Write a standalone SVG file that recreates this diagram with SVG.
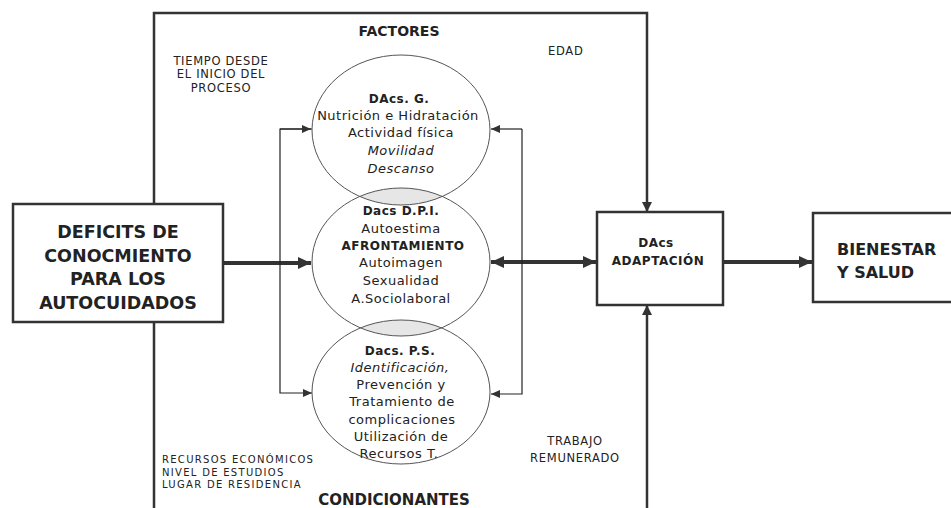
<svg xmlns="http://www.w3.org/2000/svg" width="951" height="508" viewBox="0 0 951 508">
<style>
.box{fill:#fff;stroke:#333;stroke-width:2.5}
.ell{fill:none;stroke:#555;stroke-width:1}
.lens{fill:#e6e6e6}
.thick{fill:none;stroke:#333;stroke-width:4}
.frame{fill:none;stroke:#333;stroke-width:2.5}
.thin{fill:none;stroke:#222;stroke-width:1.2}
text{font-family:"DejaVu Sans","Liberation Sans",sans-serif;fill:#222}
.t{font-size:13px;letter-spacing:0.5px;text-anchor:middle}
.b{font-weight:bold;font-size:12px}
.i{font-style:italic}
.s{font-size:11.5px;letter-spacing:0.7px}
.sm{font-size:10px;letter-spacing:1.3px}
.ad{font-size:12px;font-weight:bold;letter-spacing:0.5px;text-anchor:middle}
.big{font-size:17.5px;font-weight:bold;text-anchor:middle}
.hd{font-size:14px;font-weight:bold;text-anchor:middle}
</style>
<defs>
<marker id="ah" markerUnits="userSpaceOnUse" markerWidth="14" markerHeight="14" refX="13" refY="7" orient="auto-start-reverse"><path d="M0,1 L13,7 L0,13 z" fill="#333"/></marker>
<marker id="ahs" markerUnits="userSpaceOnUse" markerWidth="10" markerHeight="10" refX="9" refY="4" orient="auto"><path d="M0,0 L9,4 L0,8 z" fill="#333"/></marker>
<marker id="ahf" markerUnits="userSpaceOnUse" markerWidth="12" markerHeight="12" refX="5" refY="10" orient="0"><path d="M0,0 L5,10 L10,0 z" fill="#333"/></marker>
<marker id="ahu" markerUnits="userSpaceOnUse" markerWidth="12" markerHeight="12" refX="5" refY="0" orient="0"><path d="M0,10 L5,0 L10,10 z" fill="#333"/></marker>
<clipPath id="cm"><ellipse cx="401" cy="262" rx="89" ry="74"/></clipPath>
</defs>

<g id="frame">
<path class="frame" d="M154,508 V13 H647 V212" marker-end="url(#ahf)"/>
<path class="frame" d="M647,508 V305" marker-end="url(#ahu)"/>
<text class="hd" x="399" y="36">FACTORES</text>
<text class="hd" x="394" y="505" style="font-size:15px">CONDICIONANTES</text>
</g>

<g id="lenses">
<ellipse class="lens" cx="401" cy="130" rx="89" ry="75" clip-path="url(#cm)"/>
<ellipse class="lens" cx="401" cy="392" rx="89" ry="72" clip-path="url(#cm)"/>
</g>

<g id="connectors">
<path class="thick" d="M223,263 H311" marker-end="url(#ah)"/>
<path class="thick" d="M491,262 H596" marker-start="url(#ah)" marker-end="url(#ah)"/>
<path class="thick" d="M723,262 H812" marker-end="url(#ah)"/>
<path class="thin" d="M312,129 H280 V393 H312" marker-end="url(#ahs)"/>
<path class="thin" d="M280,129 H311" marker-end="url(#ahs)"/>
<path class="thin" d="M522,129 V394 H491" marker-end="url(#ahs)"/>
<path class="thin" d="M522,129 H491" marker-end="url(#ahs)"/>
</g>

<g id="deficits">
<rect class="box" x="13" y="204" width="210" height="118"/>
<text class="big" x="118" y="238">DEFICITS DE</text>
<text class="big" x="118" y="262">CONOCMIENTO</text>
<text class="big" x="118" y="285">PARA LOS</text>
<text class="big" x="118" y="309">AUTOCUIDADOS</text>
</g>

<g id="dacs-g">
<ellipse class="ell" cx="401" cy="130" rx="89" ry="75"/>
<text class="t b" x="399" y="103">DAcs. G.</text>
<text class="t" x="398" y="120">Nutrición e Hidratación</text>
<text class="t" x="401" y="137">Actividad física</text>
<text class="t i" x="401" y="155">Movilidad</text>
<text class="t i" x="401" y="173">Descanso</text>
</g>

<g id="dacs-dpi">
<ellipse class="ell" cx="401" cy="262" rx="89" ry="74"/>
<text class="t b" x="401" y="215">Dacs  D.P.I.</text>
<text class="t" x="401" y="233">Autoestima</text>
<text class="t b" x="403" y="250">AFRONTAMIENTO</text>
<text class="t" x="401" y="267">Autoimagen</text>
<text class="t" x="401" y="285">Sexualidad</text>
<text class="t" x="401" y="303">A.Sociolaboral</text>
</g>

<g id="dacs-ps">
<ellipse class="ell" cx="401" cy="392" rx="89" ry="72"/>
<text class="t b" x="400" y="355">Dacs.  P.S.</text>
<text class="t i" x="400" y="372">Identificación,</text>
<text class="t" x="401" y="389">Prevención y</text>
<text class="t" x="402" y="406">Tratamiento de</text>
<text class="t" x="402" y="424">complicaciones</text>
<text class="t" x="401" y="441">Utilización de</text>
<text class="t" x="399" y="458">Recursos T.</text>
</g>

<g id="adaptacion">
<rect class="box" x="597" y="212" width="126" height="93"/>
<text class="ad" x="656" y="247">DAcs</text>
<text class="ad" x="658" y="265">ADAPTACIÓN</text>
</g>

<g id="bienestar">
<rect class="box" x="813" y="213" width="150" height="89"/>
<text x="837" y="255" style="font-size:16px;font-weight:bold">BIENESTAR</text>
<text x="837" y="278" style="font-size:16px;font-weight:bold">Y SALUD</text>
</g>

<g id="labels">
<text class="t s" x="221" y="65">TIEMPO DESDE</text>
<text class="t s" x="221" y="78">EL INICIO DEL</text>
<text class="t s" x="221" y="92">PROCESO</text>
<text class="s" x="548" y="55">EDAD</text>
<text class="t s" x="575" y="445">TRABAJO</text>
<text class="t s" x="575" y="462">REMUNERADO</text>
<text class="sm" x="162" y="463">RECURSOS ECONÓMICOS</text>
<text class="sm" x="162" y="475.5">NIVEL DE ESTUDIOS</text>
<text class="sm" x="162" y="488">LUGAR DE RESIDENCIA</text>
</g>
</svg>
